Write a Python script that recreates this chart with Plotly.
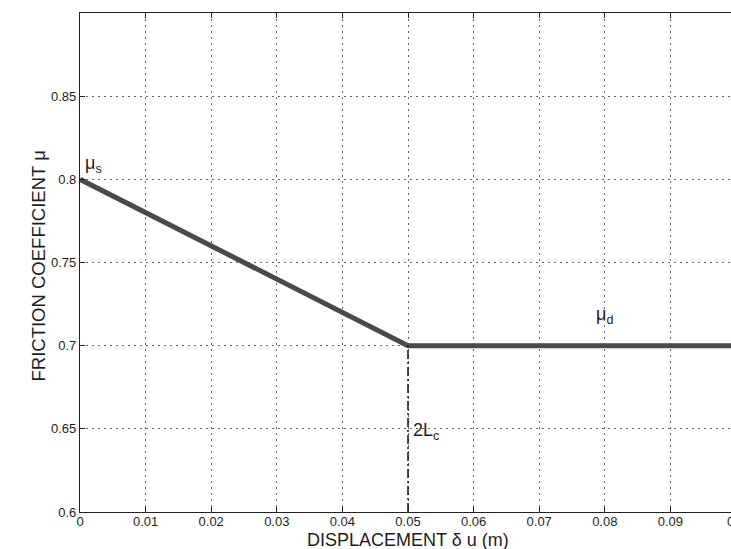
import plotly.graph_objects as go

# Data
disp = [0.0, 0.05, 0.1]
mu = [0.8, 0.7, 0.7]
lc_x = [0.05, 0.05]
lc_y = [0.6, 0.7]
x_ticks = [0, 0.01, 0.02, 0.03, 0.04, 0.05, 0.06, 0.07, 0.08, 0.09, 0.1]
x_ticktext = ["0", "0.01", "0.02", "0.03", "0.04", "0.05", "0.06", "0.07", "0.08", "0.09", "0.1"]
y_ticks = [0.6, 0.65, 0.7, 0.75, 0.8, 0.85]
y_ticktext = ["0.6", "0.65", "0.7", "0.75", "0.8", "0.85"]

FONT = "Liberation Sans, Arial, sans-serif"
TXT = "#1e1e1e"

fig = go.Figure()
fig.add_trace(go.Scatter(x=disp, y=mu, mode="lines",
                         line=dict(color="#4a4a4a", width=5), showlegend=False))
fig.add_trace(go.Scatter(x=lc_x, y=lc_y, mode="lines",
                         line=dict(color="black", width=1.4, dash="9px,3px,2px,3px"), showlegend=False))

fig.add_annotation(x=0.0004, y=0.8, xref="x", yref="y", xanchor="left", yanchor="bottom",
                   text="μ<sub>s</sub>", showarrow=False, font=dict(family=FONT, size=18, color=TXT),
                   yshift=1)
fig.add_annotation(x=0.0784, y=0.7, xref="x", yref="y", xanchor="left", yanchor="bottom",
                   text="μ<sub>d</sub>", showarrow=False, font=dict(family=FONT, size=18, color=TXT),
                   yshift=17)
fig.add_annotation(x=0.0505, y=0.65, xref="x", yref="y", xanchor="left", yanchor="middle",
                   text="2L<sub>c</sub>", showarrow=False, font=dict(family=FONT, size=18, color=TXT),
                   yshift=-3)

# axis titles
fig.add_annotation(x=0.5, y=0, xref="paper", yref="paper", xanchor="center", yanchor="middle",
                   text="DISPLACEMENT δ u (m)", showarrow=False, borderpad=0,
                   font=dict(family=FONT, size=18, color=TXT), yshift=-28)
fig.add_annotation(x=0, y=0.5, xref="paper", yref="paper", xanchor="center", yanchor="middle",
                   text="FRICTION COEFFICIENT μ", showarrow=False, textangle=-90,
                   font=dict(family=FONT, size=18.5, color=TXT), xshift=-42, yshift=-4)

axis_common = dict(
    showline=True, linecolor="#222", linewidth=1.3, mirror="ticks",
    ticks="inside", ticklen=5, tickcolor="#222", tickwidth=1.3,
    showgrid=True, gridcolor="#666", griddash="1.5px,4.5px", gridwidth=1.2,
    zeroline=False, tickfont=dict(family=FONT, size=13, color=TXT),
    automargin=False,
)

fig.update_xaxes(range=[0, 0.1], tickvals=x_ticks, ticktext=x_ticktext,
                 ticklabelstandoff=-3, **axis_common)
fig.update_yaxes(range=[0.6, 0.9], tickvals=y_ticks, ticktext=y_ticktext, **axis_common)

fig.update_layout(width=760, height=549, autosize=False,
                  margin=dict(l=80, r=24, t=13, b=37),
                  paper_bgcolor="white", plot_bgcolor="white")

fig.write_html("out.html", config={"displayModeBar": False},
               post_script="document.body.style.margin='0';document.body.style.overflow='hidden';document.documentElement.style.overflow='hidden';")
